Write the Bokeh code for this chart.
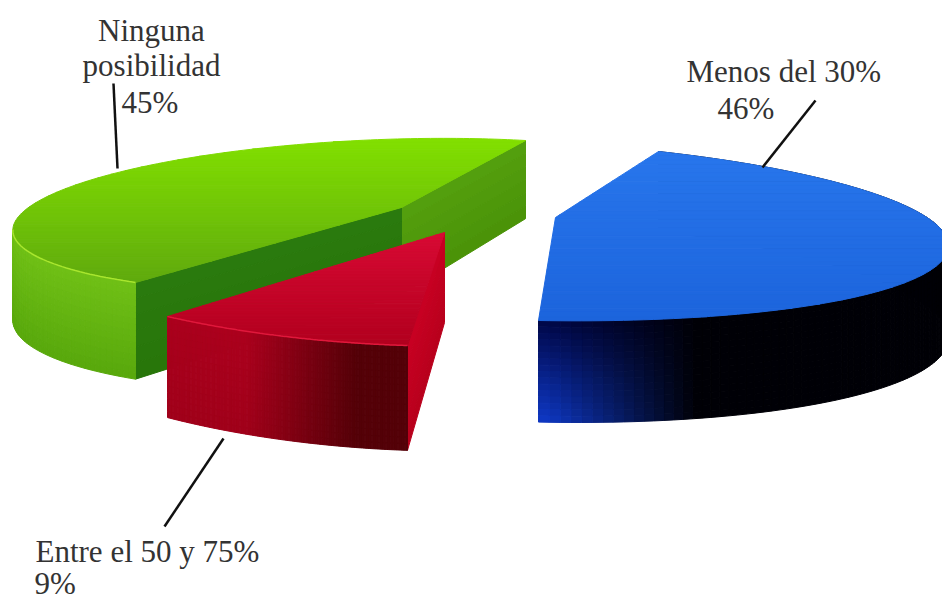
import numpy as np
from bokeh.core.properties import value
from bokeh.embed import file_html
from bokeh.models import ColumnDataSource
from bokeh.plotting import figure
from bokeh.resources import INLINE

# Survey shares, clockwise from the top of the pie
categories = ["Menos del 30%", "Entre el 50 y 75%", "Ninguna posibilidad"]
shares = [46, 9, 45]

W, H = 942, 603

# Screen anchors of each exploded slice: apex, arc start, arc middle, arc end
ANCHORS = {
    "Menos del 30%": ((555, 217), (658, 151), (948, 245), (538, 320)),
    "Entre el 50 y 75%": ((444, 232), (407, 345), (285, 336), (167, 316)),
    "Ninguna posibilidad": ((401, 207), (135, 282), (92, 179), (525, 140)),
}

# Top-face shading (colour at upper and lower edge of the slice)
TOP_SHADE = {
    "Menos del 30%": ((40, 118, 236), (28, 100, 220)),
    "Entre el 50 y 75%": ((216, 10, 52), (178, 0, 30)),
    "Ninguna posibilidad": ((130, 224, 0), (96, 170, 14)),
}


def lerp(c0, c1, t):
    t = min(1.0, max(0.0, t))
    return tuple(int(round(a + (b - a) * t)) for a, b in zip(c0, c1))


def hexcol(c):
    return "#%02x%02x%02x" % tuple(c)


def homography(src, dst):
    rows, rhs = [], []
    for (x, y), (u, v) in zip(src, dst):
        rows.append([x, y, 1, 0, 0, 0, -u * x, -u * y])
        rows.append([0, 0, 0, x, y, 1, -v * x, -v * y])
        rhs += [u, v]
    h = np.linalg.solve(np.array(rows, float), np.array(rhs, float))
    return np.append(h, 1.0).reshape(3, 3)


def project(m, pts):
    q = np.c_[pts, np.ones(len(pts))] @ m.T
    return q[:, :2] / q[:, 2:3]


def depth(y):
    # Wall height grows towards the viewer
    return 60 + 0.13 * y


def lowered(pt):
    return (pt[0], pt[1] + depth(pt[1]))


def clip_band(poly, y0, y1):
    def cut(points, keep, y):
        out = []
        for i, a in enumerate(points):
            b = points[(i + 1) % len(points)]
            if keep(a):
                out.append(a)
            if keep(a) != keep(b):
                t = (y - a[1]) / (b[1] - a[1])
                out.append((a[0] + (b[0] - a[0]) * t, y))
        return out

    poly = cut(poly, lambda p: p[1] >= y0, y0)
    if poly:
        poly = cut(poly, lambda p: p[1] <= y1, y1)
    return poly


def arc_points(name, a0, a1, n=140):
    apex, start, mid, end = ANCHORS[name]
    am = (a0 + a1) / 2
    unit = lambda a: (np.sin(a), -np.cos(a))
    m = homography([(0, 0), unit(a0), unit(am), unit(a1)], [apex, start, mid, end])
    th = np.linspace(a0, a1, n)
    return [tuple(p) for p in project(m, np.c_[np.sin(th), -np.cos(th)])]


def blue_wall(x, f):
    left_low = (14, 56, 196)
    left_high = (0, 6, 70)
    c = lerp(left_high, left_low, f)
    return lerp(c, (0, 0, 6), (x - 545) / 150)


def green_wall(x, f):
    return lerp((112, 192, 22), (88, 168, 12), f)


def red_wall(x, f):
    c = lerp((172, 0, 30), (160, 0, 26), f)
    return lerp(c, (84, 0, 8), (x - 245) / 110)


WALL_SHADE = {
    "Menos del 30%": blue_wall,
    "Entre el 50 y 75%": red_wall,
    "Ninguna posibilidad": green_wall,
}

xs, ys, fills = [], [], []


def add(poly, col):
    xs.append([p[0] for p in poly])
    ys.append([p[1] for p in poly])
    fills.append(hexcol(col))


def add_wall(a, b, shade, layers=16):
    for k in range(layers):
        f0, f1 = k / layers, (k + 1) / layers
        la, lb = lowered(a), lowered(b)
        p = lambda s, f: (s[0][0] + (s[1][0] - s[0][0]) * f, s[0][1] + (s[1][1] - s[0][1]) * f)
        quad = [p((a, la), f0), p((b, lb), f0), p((b, lb), f1), p((a, la), f1)]
        add(quad, shade((a[0] + b[0]) / 2, (f0 + f1) / 2))


def add_top(outline, colours, bands=40):
    ymin = min(p[1] for p in outline)
    ymax = max(p[1] for p in outline)
    edges = np.linspace(ymin, ymax, bands + 1)
    for i in range(bands):
        part = clip_band(outline, edges[i], edges[i + 1])
        if len(part) >= 3:
            add(part, lerp(colours[0], colours[1], (i + 0.5) / bands))


cumulative = 0.0
slices = {}
for cat, share in zip(categories, shares):
    a0 = np.radians(cumulative * 3.6)
    a1 = np.radians((cumulative + share) * 3.6)
    cumulative += share
    slices[cat] = arc_points(cat, a0, a1)

green_arc = slices["Ninguna posibilidad"]
green_front = green_arc[: int(np.argmin([q[0] for q in green_arc])) + 1]

# Painter's order: green at the back, then the red wedge, blue on its own
for cat in ["Ninguna posibilidad", "Entre el 50 y 75%", "Menos del 30%"]:
    arc = slices[cat]
    apex = ANCHORS[cat][0]
    shade = WALL_SHADE[cat]
    visible = arc
    if cat == "Ninguna posibilidad":
        visible = green_front
        add_wall(apex, arc[-1], lambda x, f: lerp((84, 160, 14), (74, 146, 8), f), layers=6)
        add_wall(arc[0], apex, lambda x, f: lerp((42, 122, 14), (40, 118, 10), f), layers=6)
    if cat == "Entre el 50 y 75%":
        add_wall(apex, arc[0], lambda x, f: lerp((200, 0, 34), (184, 0, 28), f), layers=6)
    for a, b in zip(visible[:-1], visible[1:]):
        add_wall(a, b, shade)
    add_top([apex] + arc, TOP_SHADE[cat])

p = figure(
    width=W, height=H, x_range=(0, W), y_range=(H, 0),
    output_backend="svg", toolbar_location=None,
    min_border=0, outline_line_color=None, background_fill_color="white",
)
p.xaxis.visible = False
p.yaxis.visible = False
p.xgrid.visible = False
p.ygrid.visible = False

src = ColumnDataSource(dict(xs=xs, ys=ys, fill=fills))
p.patches("xs", "ys", source=src, fill_color="fill", line_color="fill", line_width=1)

# Light rim along the visible front arcs
p.line([q[0] for q in green_front], [q[1] for q in green_front], line_color="#a8e62e", line_width=1.5)
red_arc = slices["Entre el 50 y 75%"]
p.line([q[0] for q in red_arc], [q[1] for q in red_arc], line_color="#e0183c", line_width=1.5)

# Leader lines
leaders = [((113, 83), (117, 168)), ((815, 100), (762, 167)), ((223, 438), (164, 526))]
for a, b in leaders:
    p.line([a[0], b[0]], [a[1], b[1]], line_color="#111111", line_width=2.5)

pct = {c: f"{s}%" for c, s in zip(categories, shares)}
text_rows = [
    (151, 30, "Ninguna", "center"),
    (151, 65, "posibilidad", "center"),
    (121, 102, pct["Ninguna posibilidad"], "left"),
    (686, 71, "Menos del 30%", "left"),
    (717, 108, pct["Menos del 30%"], "left"),
    (35, 551, "Entre el 50 y 75%", "left"),
    (34, 583, pct["Entre el 50 y 75%"], "left"),
]
for x, y, t, align in text_rows:
    p.text([x], [y], text=[t], text_font=value("Liberation Serif"), text_font_size="31px",
           text_color="#333333", text_align=align, text_baseline="middle")

open("out.html", "w").write(file_html(p, INLINE))
